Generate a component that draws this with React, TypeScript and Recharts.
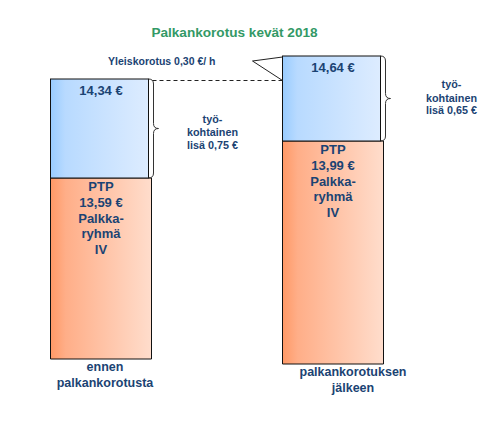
import { BarChart, Bar, XAxis, YAxis, LabelList, Customized } from 'recharts';

// schematic chart: bar heights are drawing units, not euros
const categories = ['ennen palkankorotusta', 'palkankorotuksen jälkeen'];
const categoryLines = [['ennen', 'palkankorotusta'], ['palkankorotuksen', 'jälkeen']];
const baseGap = [11, 6];
const ptpHeight = [181, 223];
const lisaHeight = [99, 85];
const totalLabels = ['14,34 €', '14,64 €'];
const ptpLabels = ['13,59 €', '13,99 €'];
const lisaLabels = ['lisä 0,75 €', 'lisä 0,65 €'];
const palkkaryhma = 'IV';
const yleiskorotus = 'Yleiskorotus 0,30 €/ h';
const title = 'Palkankorotus kevät 2018';

const data = categories.map((name, i) => ({
  name,
  base: baseGap[i],
  ptp: ptpHeight[i],
  lisa: lisaHeight[i],
}));

const FONT = '"Liberation Sans", Arial, sans-serif';
const TEXT = '#1B4373';
const SIDE_DX = [64, 71];
const SIDE_DY = [[-6, 7, 20], [-11, 3, 15]];
const CAT_DX = [4, 20];

// geometry of blue segments, filled as labels render (index 0 first)
const blueBoxes: { x: number; y: number; w: number; h: number }[] = [];

function box(props: any) {
  const vb = props.viewBox || props;
  return { x: Number(vb.x), y: Number(vb.y), w: Number(vb.width), h: Number(vb.height) };
}

function brace(x0: number, top: number, bottom: number, depth: number) {
  const x1 = x0 + depth * 0.5;
  const mid = (top + bottom) / 2;
  const r = 5;
  return `M${x0},${top} Q${x1},${top} ${x1},${top + r} L${x1},${mid - r} Q${x1},${mid} ${x0 + depth},${mid} ` +
    `Q${x1},${mid} ${x1},${mid + r} L${x1},${bottom - r} Q${x1},${bottom} ${x0},${bottom}`;
}

function PtpLabel(props: any) {
  const { x, y, w, h } = box(props);
  const i = props.index;
  const cx = x + w / 2;
  const lines = ['PTP', ptpLabels[i], 'Palkka-', 'ryhmä', palkkaryhma];
  return (
    <g fontFamily={FONT} fontWeight="bold" fill={TEXT} textAnchor="middle">
      {lines.map((t, k) => (
        <text key={k} x={cx} y={y + 13.3 + k * 15.6} fontSize={13}>{t}</text>
      ))}
      {categoryLines[i].map((t, k) => (
        <text key={'c' + k} x={cx + CAT_DX[i]} y={y + h + 12 + k * 16} fontSize={12.5}>{t}</text>
      ))}
    </g>
  );
}

function LisaLabel(props: any) {
  const { x, y, w, h } = box(props);
  const i = props.index;
  blueBoxes[i] = { x, y, w, h };
  const right = x + w - 3;
  const mid = y + h / 2;
  const extra: any[] = [];
  if (i === 1 && blueBoxes[0]) {
    const left = blueBoxes[0];
    const lineY = left.y + 1.5;
    const tipX = x - 30;
    const tipY = y + 5;
    extra.push(
      <line key="dash" x1={left.x + left.w + 1} y1={lineY} x2={x} y2={lineY}
        stroke="#222" strokeWidth={1} strokeDasharray="4 3" />,
      <polyline key="wedge" points={`${x},${y + 1} ${tipX},${tipY} ${x},${lineY}`}
        fill="none" stroke="#222" strokeWidth={1} />,
      <text key="yk" x={tipX - 37} y={y + 8.5} fontSize={10.5} fontFamily={FONT}
        fontWeight="bold" fill={TEXT} textAnchor="end">{yleiskorotus}</text>
    );
  }
  return (
    <g>
      {extra}
      <path d={brace(right, y, y + h, 10)} fill="none" stroke="#333" strokeWidth={1} />
      <g fontFamily={FONT} fontWeight="bold" fill={TEXT} textAnchor="middle">
        <text x={x + w / 2} y={y + 15.5} fontSize={13}>{totalLabels[i]}</text>
        {['työ-', 'kohtainen', lisaLabels[i]].map((t, k) => (
          <text key={k} x={right + SIDE_DX[i]} y={mid + SIDE_DY[i][k]} fontSize={10.8}>{t}</text>
        ))}
      </g>
    </g>
  );
}

function BlueShape(props: any) {
  const { x, y, width, height } = props;
  return <rect x={x} y={y} width={width - 3} height={height} fill="url(#blueGrad)" stroke="#111" strokeWidth={1} />;
}

function Title() {
  return (
    <text x={234.5} y={37} textAnchor="middle" fontFamily={FONT} fontWeight="bold"
      fontSize={13.6} fill="#339966">{title}</text>
  );
}

export default function App() {
  return (
    <div style={{ position: 'absolute', left: 0, top: 0, width: 503, height: 435, background: '#fff' }}>
      <BarChart width={503} height={435} data={data}
        margin={{ top: 0, right: 54.5, bottom: 65, left: -15.5 }}>
        <defs>
          <linearGradient id="orangeGrad" x1="0" y1="0" x2="1" y2="0">
            <stop offset="0%" stopColor="#FF9966" />
            <stop offset="15%" stopColor="#FFAE88" />
            <stop offset="100%" stopColor="#FFDDCC" />
          </linearGradient>
          <linearGradient id="blueGrad" x1="0" y1="0" x2="1" y2="0">
            <stop offset="0%" stopColor="#99CCFF" />
            <stop offset="15%" stopColor="#B8DAFF" />
            <stop offset="100%" stopColor="#DDECFF" />
          </linearGradient>
        </defs>
        <XAxis dataKey="name" hide />
        <YAxis hide domain={[0, 370]} />
        <Bar dataKey="base" stackId="s" barSize={101} fill="transparent" isAnimationActive={false} />
        <Bar dataKey="ptp" stackId="s" barSize={101} fill="url(#orangeGrad)" stroke="#111" strokeWidth={1}
          isAnimationActive={false}>
          <LabelList dataKey="ptp" content={PtpLabel} />
        </Bar>
        <Bar dataKey="lisa" stackId="s" barSize={101} shape={BlueShape} isAnimationActive={false}>
          <LabelList dataKey="lisa" content={LisaLabel} />
        </Bar>
        <Customized component={Title} />
      </BarChart>
    </div>
  );
}
